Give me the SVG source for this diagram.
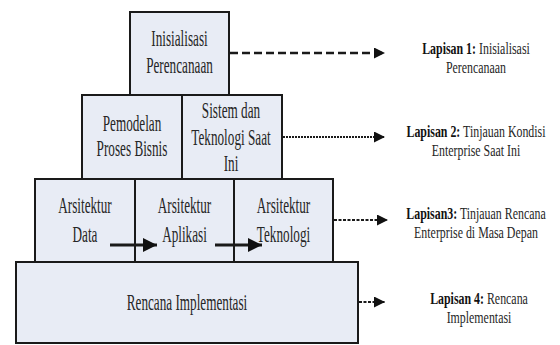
<svg xmlns="http://www.w3.org/2000/svg" width="560" height="345" viewBox="0 0 560 345">
<style>
.box{fill:#e8ecf5;stroke:#1a1a1a;stroke-width:2}
.bt{font-family:"Liberation Serif","Times New Roman",serif;font-size:24px;fill:#262626;text-anchor:middle}
.lt{font-family:"Liberation Serif","Times New Roman",serif;font-size:17px;fill:#262626;text-anchor:middle}
.b{font-weight:bold;fill:#111}
.conn{fill:none;stroke:#1a1a1a}
</style>
<defs>
<marker id="ah" viewBox="0 0 10 10" refX="10" refY="5" markerWidth="12" markerHeight="11" markerUnits="userSpaceOnUse" orient="auto">
<path d="M0,0 L10,5 L0,10 Z" fill="#111"/>
</marker>
<marker id="ahb" viewBox="0 0 10 10" refX="10" refY="5" markerWidth="15" markerHeight="14" markerUnits="userSpaceOnUse" orient="auto">
<path d="M0,0 L10,5 L0,10 Z" fill="#111"/>
</marker>
</defs>
<rect width="560" height="345" fill="#ffffff"/>

<g id="node-inisialisasi">
<rect class="box" x="130" y="12" width="99" height="83"/>
<text class="bt" transform="translate(179.5,46) scale(0.55,1)"><tspan x="0" y="0">Inisialisasi</tspan><tspan x="0" y="27">Perencanaan</tspan></text>
</g>
<g id="node-pemodelan">
<rect class="box" x="82" y="95" width="100" height="84"/>
<text class="bt" transform="translate(132,131) scale(0.55,1)"><tspan x="0" y="0">Pemodelan</tspan><tspan x="0" y="25">Proses Bisnis</tspan></text>
</g>
<g id="node-sistem">
<rect class="box" x="182" y="95" width="100" height="84"/>
<text class="bt" transform="translate(231,118) scale(0.55,1)"><tspan x="0" y="0">Sistem dan</tspan><tspan x="0" y="27">Teknologi Saat</tspan><tspan x="0" y="53">Ini</tspan></text>
</g>
<g id="node-data">
<rect class="box" x="35" y="179" width="100" height="83"/>
<text class="bt" transform="translate(85,213) scale(0.55,1)"><tspan x="0" y="0">Arsitektur</tspan><tspan x="0" y="29">Data</tspan></text>
</g>
<g id="node-aplikasi">
<rect class="box" x="135" y="179" width="99" height="83"/>
<text class="bt" transform="translate(184.5,213) scale(0.55,1)"><tspan x="0" y="0">Arsitektur</tspan><tspan x="0" y="29">Aplikasi</tspan></text>
</g>
<g id="node-teknologi">
<rect class="box" x="234" y="179" width="99" height="83"/>
<text class="bt" transform="translate(283.5,213) scale(0.55,1)"><tspan x="0" y="0">Arsitektur</tspan><tspan x="0" y="29">Teknologi</tspan></text>
</g>
<g id="node-rencana">
<rect class="box" x="16" y="262" width="342" height="81"/>
<text class="bt" transform="translate(187,310) scale(0.55,1)">Rencana Implementasi</text>
</g>

<g id="label-1">
<text class="lt" transform="translate(476,54) scale(0.7,1)"><tspan x="0" y="0"><tspan class="b">Lapisan 1:</tspan> Inisialisasi</tspan><tspan x="0" y="19">Perencanaan</tspan></text>
</g>
<g id="label-2">
<text class="lt" transform="translate(476,137) scale(0.7,1)"><tspan x="0" y="0"><tspan class="b">Lapisan 2:</tspan> Tinjauan Kondisi</tspan><tspan x="0" y="19">Enterprise Saat Ini</tspan></text>
</g>
<g id="label-3">
<text class="lt" transform="translate(476,219) scale(0.7,1)"><tspan x="0" y="0"><tspan class="b">Lapisan3:</tspan> Tinjauan Rencana</tspan><tspan x="0" y="19">Enterprise di Masa Depan</tspan></text>
</g>
<g id="label-4">
<text class="lt" transform="translate(479,304) scale(0.7,1)"><tspan x="0" y="0"><tspan class="b">Lapisan 4:</tspan> Rencana</tspan><tspan x="0" y="19">Implementasi</tspan></text>
</g>

<g id="connectors">
<path class="conn" d="M230,53 H385" stroke-width="2.5" stroke-dasharray="8,4" marker-end="url(#ah)"/>
<path class="conn" d="M283,137 H385" stroke-width="2" stroke-dasharray="2,1" marker-end="url(#ah)"/>
<path class="conn" d="M334,220 H388" stroke-width="2" stroke-dasharray="3,1.5" marker-end="url(#ah)"/>
<path class="conn" d="M359,302 H385" stroke-width="2" stroke-dasharray="3,1.5" marker-end="url(#ah)"/>
<path class="conn" d="M110,245 H157" stroke-width="3" marker-end="url(#ahb)"/>
<path class="conn" d="M215,245 H262" stroke-width="3" marker-end="url(#ahb)"/>
</g>
</svg>
